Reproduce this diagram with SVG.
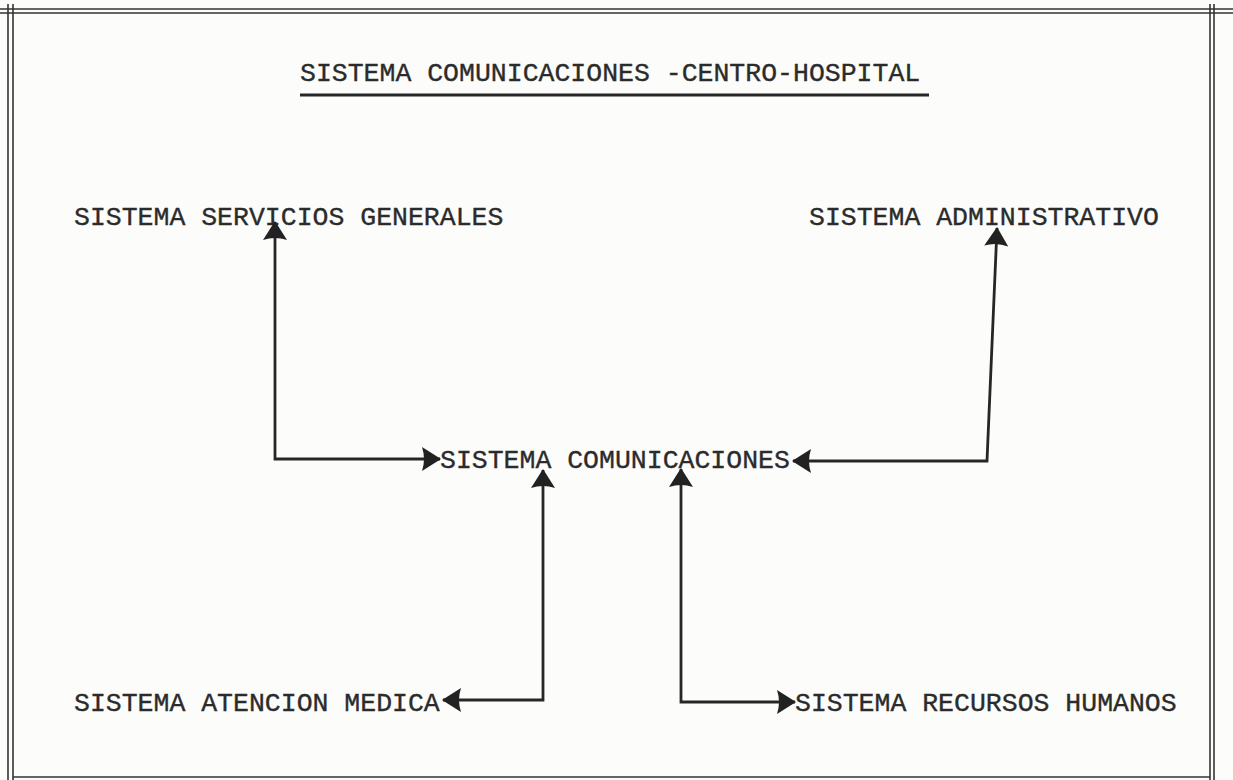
<svg xmlns="http://www.w3.org/2000/svg" width="1233" height="780" viewBox="0 0 1233 780">
  <defs>
    <style>
      .frame { stroke: #333; stroke-width: 1.6; fill: none; }
      .lbl { font-family: "Liberation Mono", "Courier New", monospace; font-size: 26.5px; fill: #2b2b2b; stroke: #2b2b2b; stroke-width: 0.35; }
      .link { stroke: #262626; stroke-width: 2.8; fill: none; stroke-linejoin: miter; }
    </style>
    <marker id="head" markerUnits="userSpaceOnUse" viewBox="0 0 20 24" refX="19" refY="12" markerWidth="20" markerHeight="24" orient="auto-start-reverse">
      <path d="M20,12 L1,0 Q5,12 1,24 Z" fill="#222"/>
    </marker>
  </defs>

  <rect width="1233" height="780" fill="#fcfcfa"/>

  <!-- typed-page frame: double rule top and sides, single rule bottom -->
  <g id="frame">
    <line class="frame" x1="0" y1="9" x2="1233" y2="9"/>
    <line class="frame" x1="0" y1="13" x2="1233" y2="13"/>
    <line class="frame" x1="8" y1="4" x2="8" y2="780"/>
    <line class="frame" x1="13" y1="4" x2="13" y2="780"/>
    <line class="frame" x1="1210" y1="4" x2="1210" y2="780"/>
    <line class="frame" x1="1214" y1="4" x2="1214" y2="780"/>
    <line class="frame" x1="13" y1="777" x2="1210" y2="777" stroke-width="2.4"/>
  </g>

  <g id="title">
    <text class="lbl" x="300" y="81">SISTEMA COMUNICACIONES -CENTRO-HOSPITAL</text>
    <line x1="300" y1="95" x2="929" y2="95" stroke="#262626" stroke-width="3"/>
  </g>

  <g id="servicios-generales">
    <text class="lbl" x="74" y="225">SISTEMA SERVICIOS GENERALES</text>
  </g>
  <g id="administrativo">
    <text class="lbl" x="809" y="225">SISTEMA ADMINISTRATIVO</text>
  </g>
  <g id="comunicaciones">
    <text class="lbl" x="440" y="468">SISTEMA COMUNICACIONES</text>
  </g>
  <g id="atencion-medica">
    <text class="lbl" x="74" y="711">SISTEMA ATENCION MEDICA</text>
  </g>
  <g id="recursos-humanos">
    <text class="lbl" x="795" y="711">SISTEMA RECURSOS HUMANOS</text>
  </g>

  <g id="connectors">
    <path class="link" d="M275,222 L275,459 L440,459" marker-start="url(#head)" marker-end="url(#head)"/>
    <path class="link" d="M997,228 L987,461 L793,461" marker-start="url(#head)" marker-end="url(#head)"/>
    <path class="link" d="M543,470 L543,700 L443,700" marker-start="url(#head)" marker-end="url(#head)"/>
    <path class="link" d="M681,469 L681,702 L795,702" marker-start="url(#head)" marker-end="url(#head)"/>
  </g>
</svg>
